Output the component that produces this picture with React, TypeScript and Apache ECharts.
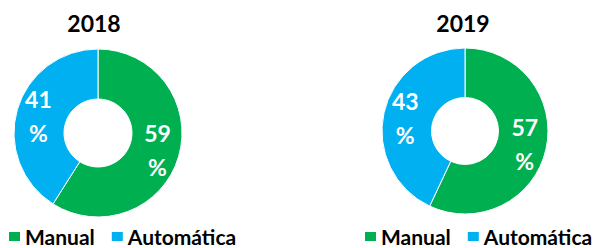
import React, { useEffect, useRef } from "react";
import * as echarts from "echarts";

const categories = ["Manual", "Automática"];
const years = ["2018", "2019"];
const values2018 = [59, 41];
const values2019 = [57, 43];
const colors = ["#00B050", "#00B0F0"];

export default function App() {
  const ref = useRef<HTMLDivElement>(null);
  useEffect(() => {
    if (!ref.current) return;
    const chart = echarts.init(ref.current, null, { renderer: "svg" });
    const font = "Lato";
    const mk = (vals: number[]) => categories.map((c, i) => ({ name: c, value: vals[i] }));
    const label = {
      show: true,
      position: "inside",
      formatter: "{c}\n%",
      color: "#fff",
      fontFamily: font,
      fontWeight: "bold",
      fontSize: 23,
      lineHeight: 34,
    };
    const legendBase = {
      data: categories,
      itemWidth: 13,
      itemHeight: 11,
      itemGap: 15,
      icon: "rect",
      selectedMode: false,
      textStyle: { fontFamily: font, fontWeight: "bold", fontSize: 21, lineHeight: 21, color: "#000", padding: [0, 0, 0, -1] },
      padding: 0,
      top: 226,
    };
    chart.setOption({
      animation: false,
      color: colors,
      graphic: [
        {
          type: "text",
          x: 94,
          y: 23,
          style: { text: years[0], fontFamily: font, fontWeight: "bold", fontSize: 23, fill: "#000", textAlign: "center", textVerticalAlign: "middle" },
        },
        {
          type: "text",
          x: 463,
          y: 23,
          style: { text: years[1], fontFamily: font, fontWeight: "bold", fontSize: 23, fill: "#000", textAlign: "center", textVerticalAlign: "middle" },
        },
      ],
      legend: [
        { ...legendBase, left: 7 },
        { ...legendBase, left: 363 },
      ],
      series: [
        {
          type: "pie",
          center: [98, 133],
          radius: [34, 84],
          startAngle: 90,
          label,
          labelLine: { show: false },
          itemStyle: { borderColor: "#fff", borderWidth: 1 },
          emphasis: { disabled: true },
          data: mk(values2018),
        },
        {
          type: "pie",
          center: [465, 131],
          radius: [33.5, 83],
          startAngle: 90,
          label,
          labelLine: { show: false },
          itemStyle: { borderColor: "#fff", borderWidth: 1 },
          emphasis: { disabled: true },
          data: mk(values2019),
        },
      ],
    });
    return () => chart.dispose();
  }, []);
  return <div ref={ref} style={{ width: 595, height: 248, position: "absolute", left: 0, top: 0 }} />;
}
